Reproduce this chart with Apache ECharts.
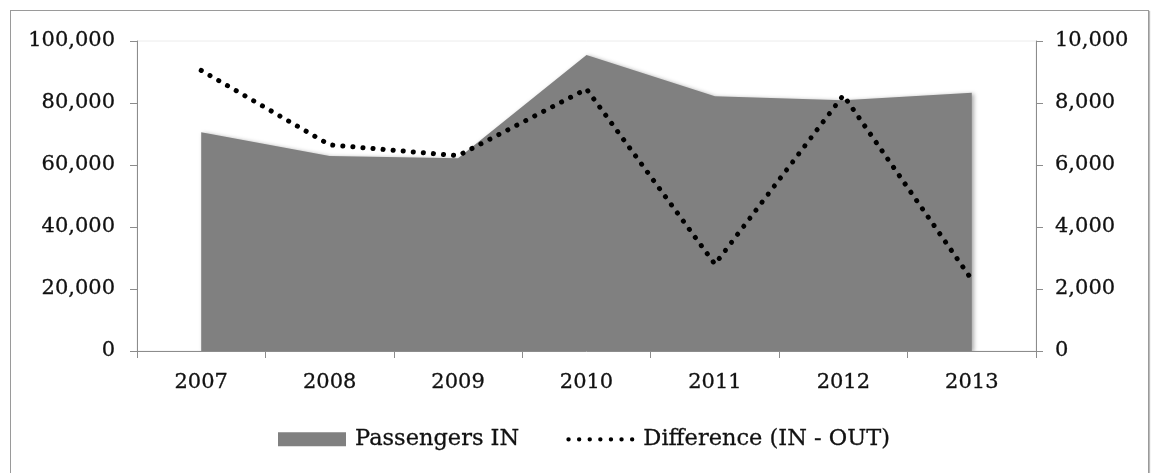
<!DOCTYPE html>
<html><head><meta charset="utf-8">
<script src="https://cdn.jsdelivr.net/npm/echarts@6/dist/echarts.min.js"></script>
<style>
html,body{margin:0;padding:0;background:#fff;}
#frame{position:absolute;left:10px;top:10px;width:1137px;height:480px;border:1px solid #9a9a9a;box-shadow:1px 1px 1px #bbb;}
#c{position:absolute;left:0;top:0;width:1152px;height:473px;}
</style></head>
<body>
<div id="frame"></div>
<div id="c"></div>
<script>
const years = ['2007','2008','2009','2010','2011','2012','2013'];
const passengersIn = [70600, 62900, 62200, 95500, 82200, 80900, 83300];
const difference = [9050, 6650, 6300, 8450, 2800, 8250, 2300];
const leftTicks = [0, 20000, 40000, 60000, 80000, 100000];
const rightTicks = [0, 2000, 4000, 6000, 8000, 10000];

const fontFam = 'DejaVu Serif';
const txt = '#111';
const fmt = v => v.toLocaleString('en-US');

// dotted legend icon: 7 dots in a 68x14 box (corner points keep the box size)
let dotPath = 'M0 0 L0.01 0 L0 0.01 Z M68 14 L67.99 14 L68 13.99 Z ';
for (let i = 0; i < 7; i++) {
  const cx = 2.2 + i * 10.6, cy = 7, r = 2.2;
  dotPath += 'M' + (cx - r) + ' ' + cy + ' A' + r + ' ' + r + ' 0 1 0 ' + (cx + r) + ' ' + cy +
             ' A' + r + ' ' + r + ' 0 1 0 ' + (cx - r) + ' ' + cy + ' Z ';
}

const lbl = {fontFamily: fontFam, fontSize: 21, color: txt, textBorderColor: txt, textBorderWidth: 0.3};

const chart = echarts.init(document.getElementById('c'), null, {renderer:'canvas'});
chart.setOption({
  backgroundColor: 'transparent',
  animation: false,
  textStyle: {fontFamily: fontFam},
  grid: {left:137, right:116, top:41, bottom:122, show:true, borderColor:'#ececec', borderWidth:1, backgroundColor:'transparent'},
  legend: {
    bottom: 17, left: 273,
    itemWidth: 68, itemHeight: 14, itemGap: 47,
    formatter: name => '{t|' + name + '}',
    textStyle: {
      fontFamily: fontFam, fontSize: 22.5, color: txt,
      rich: {t: {fontFamily: fontFam, fontSize: 22.5, color: txt, textBorderColor: txt, textBorderWidth: 0.3, padding:[0,0,0,4]}}
    },
    data: [
      {name:'Passengers IN', icon:'rect'},
      {name:'Difference (IN - OUT)', icon:'path://' + dotPath, itemStyle:{color:'#000'}}
    ]
  },
  xAxis: {
    type: 'category', data: years, boundaryGap: true,
    axisLine: {lineStyle:{color:'#8c8c8c', width:1}},
    axisTick: {show:true, length:7, lineStyle:{color:'#8c8c8c'}},
    axisLabel: Object.assign({margin: 21}, lbl),
    splitLine: {show:false}
  },
  yAxis: [
    {
      type:'value', min: leftTicks[0], max: leftTicks[leftTicks.length-1], interval: 20000,
      axisLine:{show:true, lineStyle:{color:'#8c8c8c'}},
      axisTick:{show:true, length:7, lineStyle:{color:'#8c8c8c'}},
      axisLabel: Object.assign({margin: 22, formatter: fmt}, lbl),
      splitLine:{show:false}
    },
    {
      type:'value', min: rightTicks[0], max: rightTicks[rightTicks.length-1], interval: 2000, position:'right',
      axisLine:{show:true, lineStyle:{color:'#8c8c8c'}},
      axisTick:{show:true, length:7, lineStyle:{color:'#8c8c8c'}},
      axisLabel: Object.assign({margin: 19, formatter: fmt}, lbl),
      splitLine:{show:false}
    }
  ],
  series: [
    {
      name:'Passengers IN', type:'line', yAxisIndex:0, data: passengersIn,
      symbol:'none', lineStyle:{width:0, color:'#808080'},
      itemStyle:{color:'#808080'},
      areaStyle:{color:'#808080', opacity:1, shadowColor:'rgba(0,0,0,0.35)', shadowBlur:4, shadowOffsetX:2, shadowOffsetY:1},
      z:1
    },
    {
      name:'Difference (IN - OUT)', type:'line', yAxisIndex:1, data: difference,
      symbol:'none', itemStyle:{color:'#000'},
      lineStyle:{color:'#000', width:5, type:[0.1, 10], cap:'round'},
      z:3
    }
  ]
});
</script>
</body></html>
